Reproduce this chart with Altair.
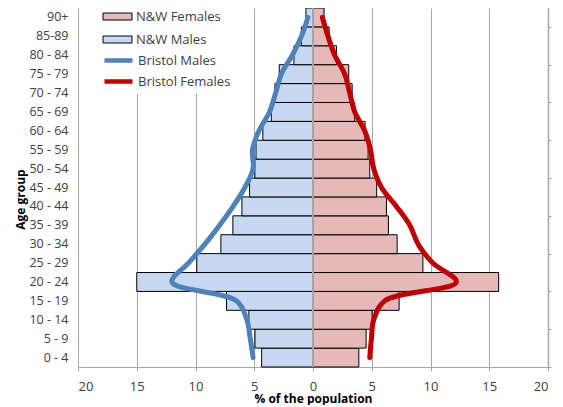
import altair as alt
import pandas as pd

# ---- data (bottom age band first) ----
ages = ["0 - 4", "5 - 9", "10 - 14", "15 - 19", "20 - 24", "25 - 29", "30 - 34",
        "35 - 39", "40 - 44", "45 - 49", "50 - 54", "55 - 59", "60 - 64",
        "65 - 69", "70 - 74", "75 - 79", "80 - 84", "85-89", "90+"]
nw_males = [4.37, 4.94, 5.46, 7.36, 15.0, 9.89, 7.84, 6.82, 6.05, 5.4,
            4.95, 4.85, 4.27, 3.55, 3.24, 2.87, 1.62, 0.99, 0.60]
nw_females = [3.9, 4.52, 5.03, 7.33, 15.8, 9.35, 7.16, 6.42, 6.25, 5.42,
              4.83, 4.69, 4.43, 3.55, 3.33, 3.04, 2.0, 1.37, 0.94]
bristol_males = [5.1, 5.34, 5.63, 6.5, 12.0, 10.6, 9.2, 7.95, 6.8, 5.8,
                 5.1, 5.15, 4.6, 3.7, 3.18, 2.7, 1.76, 0.99, 0.43]
bristol_females = [4.83, 4.97, 5.17, 6.1, 12.2, 10.2, 8.95, 8.24, 7.1, 5.83,
                   5.17, 4.89, 4.4, 3.55, 3.13, 2.7, 1.85, 1.28, 0.8]
x_ticks = [-20, -15, -10, -5, 0, 5, 10, 15, 20]
right_ticks = [0, 2, 4, 6, 8, 10, 12, 14, 16, 18]

bar_rows, line_rows = [], []
for i, a in enumerate(ages):
    bar_rows.append({"age": a, "idx": i, "series": "N&W Males", "value": -nw_males[i]})
    bar_rows.append({"age": a, "idx": i, "series": "N&W Females", "value": nw_females[i]})
    line_rows.append({"age": a, "idx": i, "series": "Bristol Males", "value": -bristol_males[i]})
    line_rows.append({"age": a, "idx": i, "series": "Bristol Females", "value": bristol_females[i]})
bars_df = pd.DataFrame(bar_rows)
lines_df = pd.DataFrame(line_rows)

FONT = "Open Sans"
GRID = "#A6A6A6"
TXT = "#404040"

yscale = alt.Scale(domain=ages[::-1], paddingInner=0, paddingOuter=0)
xscale = alt.Scale(domain=[-20, 20], nice=False)

x_axis = alt.Axis(values=x_ticks, labelExpr="abs(datum.value)", grid=True,
                  gridColor=GRID, gridWidth=1, domainColor=GRID, tickColor=GRID,
                  tickSize=4, labelPadding=9, labelFont=FONT, labelFontSize=13,
                  labelColor=TXT, title="% of the population", titleFont=FONT,
                  titleFontSize=12, titleFontWeight="bold", titleColor="black",
                  titleY=35, titleBaseline="alphabetic")
y_axis = alt.Axis(title="Age group", domain=False, ticks=False, grid=False,
                  labelPadding=10, labelFont=FONT, labelFontSize=12.5,
                  labelColor=TXT, titleFont=FONT, titleFontSize=12,
                  titleFontWeight="bold", titleColor="black", titleX=-58,
                  titleY=191, titleAngle=270, titleBaseline="middle",
                  titleAlign="center")

legend_common = dict(title=None, orient="none", symbolSize=100, legendX=30,
                     labelFont=FONT, labelFontSize=13, labelColor=TXT,
                     fillColor="white", padding=3, labelOffset=12)

bar = alt.Chart(bars_df).mark_bar(stroke="black", strokeWidth=1).encode(
    x=alt.X("value:Q", scale=xscale, axis=x_axis, stack=None),
    y=alt.Y("age:O", scale=yscale, axis=y_axis, sort=None),
    fill=alt.Fill("series:N",
                  scale=alt.Scale(domain=["N&W Females", "N&W Males"],
                                  range=["#E6B9B8", "#C6D9F1"]),
                  legend=alt.Legend(legendY=-1, rowPadding=9,
                                    symbolType="M-2.9,-0.7H2.9V0.7H-2.9Z",
                                    symbolStrokeColor="black", symbolStrokeWidth=1,
                                    **legend_common)),
)

zero = alt.Chart(bars_df).mark_rule(color=GRID, strokeWidth=1.5).encode(
    x=alt.datum(0, scale=xscale)
)

line = alt.Chart(lines_df).mark_line(interpolate="catmull-rom", strokeWidth=5,
                                     strokeCap="round").encode(
    x=alt.X("value:Q", scale=xscale),
    y=alt.Y("age:O", scale=yscale, axis=None, sort=None),
    stroke=alt.Stroke("series:N",
                      scale=alt.Scale(domain=["Bristol Males", "Bristol Females"],
                                      range=["#4F81BD", "#C00000"]),
                      legend=alt.Legend(legendY=42, rowPadding=2,
                                        symbolType="M-2.8,0H2.8",
                                        symbolStrokeWidth=4.5,
                                        **legend_common)),
    order=alt.Order("idx:Q"),
)

right = alt.Chart(pd.DataFrame({"v": right_ticks})).mark_point(opacity=0).encode(
    y=alt.Y("v:Q", scale=alt.Scale(domain=[0, 19], nice=False),
            axis=alt.Axis(orient="right", values=right_ticks, labels=False, title=None,
                          grid=False, domainColor=GRID, tickColor=GRID, tickSize=3,
                          domainWidth=1.5))
)

chart = alt.layer(bar, zero, line, right).resolve_scale(y="independent").properties(
    width=470, height=359,
    autosize=alt.AutoSizeParams(type="none"),
    padding={"left": 70, "top": 0, "right": 7, "bottom": 38},
).configure_view(stroke=None)

chart.save("out.html", embed_options={"renderer": "svg", "actions": False})
